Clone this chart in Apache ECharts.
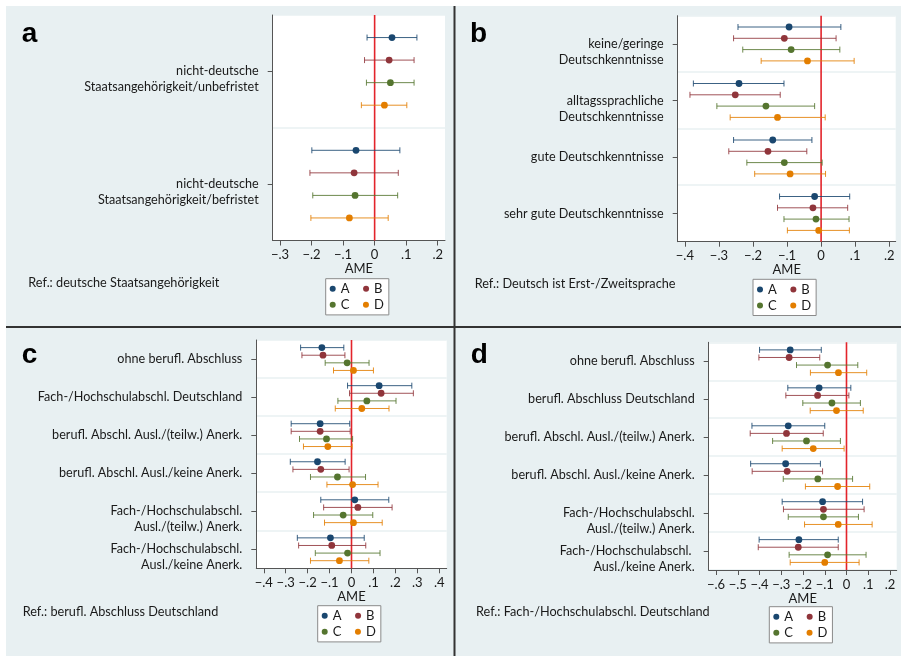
<!DOCTYPE html>
<html>
<head>
<meta charset="utf-8">
<script src="https://cdn.jsdelivr.net/npm/echarts@6/dist/echarts.min.js"></script>
<style>
  html, body { margin: 0; padding: 0; background: #fff; }
  #main { width: 901px; height: 656px; }
</style>
</head>
<body>
<div id="main"></div>
<script>
// series letters
const letters = ['A', 'B', 'C', 'D'];

// panel a: [AME, lower CI, upper CI] per category
const aCats = ['nicht-deutsche\nStaatsangehörigkeit/unbefristet', 'nicht-deutsche\nStaatsangehörigkeit/befristet'];
const aA = [[0.055, -0.024, 0.134], [-0.059, -0.199, 0.080]];
const aB = [[0.046, -0.032, 0.125], [-0.065, -0.205, 0.075]];
const aC = [[0.050, -0.026, 0.125], [-0.062, -0.196, 0.073]];
const aD = [[0.031, -0.042, 0.102], [-0.080, -0.202, 0.043]];
const aTicks = [-0.3, -0.2, -0.1, 0, 0.1, 0.2];

// panel b
const bCats = ['keine/geringe\nDeutschkenntnisse', 'alltagssprachliche\nDeutschkenntnisse', 'gute Deutschkenntnisse', 'sehr gute Deutschkenntnisse'];
const bA = [[-0.094, -0.244, 0.058], [-0.241, -0.375, -0.109], [-0.142, -0.257, -0.027], [-0.019, -0.122, 0.084]];
const bB = [[-0.108, -0.257, 0.044], [-0.252, -0.385, -0.120], [-0.156, -0.271, -0.042], [-0.024, -0.128, 0.078]];
const bC = [[-0.088, -0.230, 0.055], [-0.162, -0.306, -0.019], [-0.108, -0.218, 0.003], [-0.015, -0.109, 0.082]];
const bD = [[-0.040, -0.176, 0.097], [-0.128, -0.267, 0.012], [-0.091, -0.195, 0.013], [-0.007, -0.099, 0.083]];
const bTicks = [-0.4, -0.3, -0.2, -0.1, 0, 0.1, 0.2];

// panel c
const cCats = ['ohne berufl. Abschluss', 'Fach-/Hochschulabschl. Deutschland', 'berufl. Abschl. Ausl./(teilw.) Anerk.', 'berufl. Abschl. Ausl./keine Anerk.', 'Fach-/Hochschulabschl.\nAusl./(teilw.) Anerk.', 'Fach-/Hochschulabschl.\nAusl./keine Anerk.'];
const cA = [[-0.135, -0.232, -0.035], [0.126, -0.018, 0.275], [-0.143, -0.275, -0.008], [-0.155, -0.279, -0.029], [0.015, -0.140, 0.170], [-0.096, -0.247, 0.058]];
const cB = [[-0.130, -0.226, -0.030], [0.135, -0.009, 0.282], [-0.143, -0.275, -0.006], [-0.140, -0.267, -0.011], [0.029, -0.127, 0.185], [-0.090, -0.241, 0.065]];
const cC = [[-0.020, -0.120, 0.080], [0.070, -0.062, 0.203], [-0.114, -0.237, 0.005], [-0.064, -0.187, 0.064], [-0.038, -0.173, 0.097], [-0.018, -0.165, 0.130]];
const cD = [[0.009, -0.082, 0.100], [0.047, -0.074, 0.171], [-0.108, -0.219, 0.003], [0.005, -0.112, 0.121], [0.009, -0.123, 0.140], [-0.055, -0.187, 0.079]];
const cTicks = [-0.4, -0.3, -0.2, -0.1, 0, 0.1, 0.2, 0.3, 0.4];

// panel d
const dCats = ['ohne berufl. Abschluss', 'berufl. Abschluss Deutschland', 'berufl. Abschl. Ausl./(teilw.) Anerk.', 'berufl. Abschl. Ausl./keine Anerk.', 'Fach-/Hochschulabschl.\nAusl./(teilw.) Anerk.', 'Fach-/Hochschulabschl. \nAusl./keine Anerk.'];
const dA = [[-0.259, -0.400, -0.116], [-0.126, -0.270, 0.020], [-0.268, -0.435, -0.100], [-0.280, -0.441, -0.120], [-0.110, -0.296, 0.074], [-0.219, -0.402, -0.038]];
const dB = [[-0.264, -0.403, -0.123], [-0.133, -0.279, 0.011], [-0.276, -0.443, -0.107], [-0.273, -0.434, -0.110], [-0.106, -0.290, 0.081], [-0.222, -0.406, -0.038]];
const dC = [[-0.087, -0.230, 0.052], [-0.067, -0.201, 0.064], [-0.184, -0.340, -0.028], [-0.132, -0.291, 0.028], [-0.106, -0.268, 0.055], [-0.087, -0.264, 0.090]];
const dD = [[-0.037, -0.166, 0.093], [-0.046, -0.167, 0.077], [-0.153, -0.296, -0.011], [-0.041, -0.189, 0.107], [-0.038, -0.193, 0.118], [-0.100, -0.259, 0.058]];
const dTicks = [-0.6, -0.5, -0.4, -0.3, -0.2, -0.1, 0, 0.1, 0.2];

const colors = ['#1a476f', '#90353b', '#55752f', '#e37e00'];
const bg = '#e8f0f2';
const font = 'Lato, "Liberation Sans", sans-serif';
const txt = '#1a1a1a';

const panels = [
  {letter: 'a', cats: aCats, data: [aA, aB, aC, aD], ticks: aTicks, min: -0.323, max: 0.223,
   grid: {left: 272.7, top: 15, width: 172.3, height: 225.5}, legend: [325.7, 278.7],
   ref: 'Ref.: deutsche Staatsangehörigkeit', refPos: [28.3, 283.3], letterPos: [21.7, 34.5]},
  {letter: 'b', cats: bCats, data: [bA, bB, bC, bD], ticks: bTicks, min: -0.421, max: 0.219,
   grid: {left: 677.7, top: 15.7, width: 218, height: 226}, legend: [753, 279.3],
   ref: 'Ref.: Deutsch ist Erst-/Zweitsprache', refPos: [474.7, 283.7], letterPos: [470, 34.5]},
  {letter: 'c', cats: cCats, data: [cA, cB, cC, cD], ticks: cTicks, min: -0.434, max: 0.434,
   grid: {left: 256.3, top: 340, width: 190.4, height: 228.3}, legend: [317.7, 605.7],
   ref: 'Ref.: berufl. Abschluss Deutschland', refPos: [22.7, 611.7], letterPos: [21.7, 355]},
  {letter: 'd', cats: dCats, data: [dA, dB, dC, dD], ticks: dTicks, min: -0.634, max: 0.231,
   grid: {left: 708.7, top: 342.3, width: 188, height: 227.7}, legend: [769.3, 606.7],
   ref: 'Ref.: Fach-/Hochschulabschl. Deutschland', refPos: [476, 611.7], letterPos: [470.7, 355.5]}
];

// Stata style tick labels: -.3, .1, 0
function fmtTick(v) {
  if (Math.abs(v) < 1e-9) return '0';
  return (v < 0 ? '\u2212' : '') + '.' + Math.round(Math.abs(v) * 10);
}

// first line of a two-line label sits on the tick
function fmtCat(s) {
  return s.indexOf('\n') >= 0 ? ' \n' + s : s;
}

// left legend column padded so the right column lines up
function fmtLegend(name) {
  return (name === 'A' || name === 'C') ? name + '\u2003\u200a' : name;
}

function renderCI(params, api) {
  const y = api.value(3);
  const p = api.coord([api.value(0), y]);
  const lo = api.coord([api.value(1), y]);
  const hi = api.coord([api.value(2), y]);
  const c = api.visual('color');
  const ls = {stroke: c, lineWidth: 1, opacity: 0.85};
  return {
    type: 'group',
    children: [
      {type: 'line', shape: {x1: lo[0], y1: lo[1], x2: hi[0], y2: hi[1]}, style: ls},
      {type: 'line', shape: {x1: lo[0], y1: lo[1] - 3, x2: lo[0], y2: lo[1] + 3}, style: ls},
      {type: 'line', shape: {x1: hi[0], y1: hi[1] - 3, x2: hi[0], y2: hi[1] + 3}, style: ls},
      {type: 'circle', shape: {cx: p[0], cy: p[1], r: 3.4}, style: {fill: c}}
    ]
  };
}

const grids = [], xAxes = [], yAxes = [], series = [], legends = [], graphics = [];

graphics.push({type: 'rect', silent: true, shape: {x: 0, y: 0, width: 901, height: 6}, style: {fill: '#fff'}});
graphics.push({type: 'rect', silent: true, shape: {x: 0, y: 0, width: 6, height: 656}, style: {fill: '#fff'}});
graphics.push({type: 'rect', silent: true, shape: {x: 6, y: 326, width: 895, height: 2}, style: {fill: '#333'}});
graphics.push({type: 'rect', silent: true, shape: {x: 453.5, y: 6, width: 2, height: 650}, style: {fill: '#333'}});

panels.forEach((p, i) => {
  const n = p.cats.length;
  grids.push(Object.assign({show: true, backgroundColor: '#fff', borderWidth: 0}, p.grid));

  xAxes.push({
    gridIndex: i, type: 'value', min: p.min, max: p.max,
    name: 'AME', nameLocation: 'middle', nameGap: 23,
    nameTextStyle: {color: txt, fontSize: 13, fontFamily: font, verticalAlign: 'middle'},
    axisLine: {show: true, onZero: false, lineStyle: {color: '#555', width: 1}},
    axisTick: {show: true, customValues: p.ticks, length: 5, lineStyle: {color: '#555'}},
    axisLabel: {customValues: p.ticks, formatter: fmtTick, margin: 8, color: txt, fontSize: 13, fontFamily: font},
    splitLine: {show: false}
  });

  yAxes.push({
    gridIndex: i, type: 'category', inverse: true, boundaryGap: true,
    data: p.cats.map(fmtCat),
    axisLine: {show: true, onZero: false, lineStyle: {color: '#555', width: 1}},
    axisTick: {show: true, alignWithLabel: true, length: 5, lineStyle: {color: '#555'}},
    axisLabel: {margin: 14, color: txt, fontSize: 12.6, lineHeight: 16, fontFamily: font, align: 'right', interval: 0},
    splitLine: {show: true, lineStyle: {color: bg, width: 1.5}}
  });
  yAxes.push({gridIndex: i, type: 'value', min: 0, max: 5 * n, inverse: true, show: false});

  // reference line at 0
  series.push({
    type: 'line', xAxisIndex: i, yAxisIndex: 2 * i + 1, silent: true, symbol: 'none', z: 1,
    data: [[0, 0], [0, 5 * n]],
    lineStyle: {color: '#e3242b', width: 1.6}
  });

  p.data.forEach((arr, s) => {
    series.push({
      type: 'custom', name: letters[s], xAxisIndex: i, yAxisIndex: 2 * i + 1, z: 3,
      itemStyle: {color: colors[s]},
      encode: {x: [0, 1, 2], y: 3},
      data: arr.map((r, g) => [r[0], r[1], r[2], 5 * g + s + 1]),
      renderItem: renderCI
    });
  });

  legends.push({
    data: letters, left: p.legend[0], top: p.legend[1], width: 62, orient: 'horizontal',
    icon: 'circle', itemWidth: 6, itemHeight: 6, itemGap: 3,
    padding: [3.6, 5, 3.6, 4],
    backgroundColor: '#fff', borderColor: '#8a8a8a', borderWidth: 1, borderRadius: 0,
    selectedMode: false,
    formatter: fmtLegend,
    textStyle: {color: txt, fontSize: 13, fontFamily: font}
  });

  graphics.push({
    type: 'text', x: p.letterPos[0], y: p.letterPos[1], silent: true,
    style: {text: p.letter, fill: '#000', font: 'bold 28px "Liberation Sans", Arial, sans-serif', textVerticalAlign: 'middle'}
  });
  graphics.push({
    type: 'text', x: p.refPos[0], y: p.refPos[1], silent: true,
    style: {text: p.ref, fill: txt, font: '12.7px ' + font, textVerticalAlign: 'middle'}
  });
});

const chart = echarts.init(document.getElementById('main'));
chart.setOption({
  backgroundColor: bg,
  animation: false,
  grid: grids,
  xAxis: xAxes,
  yAxis: yAxes,
  legend: legends,
  graphic: graphics,
  series: series
});
</script>
</body>
</html>
